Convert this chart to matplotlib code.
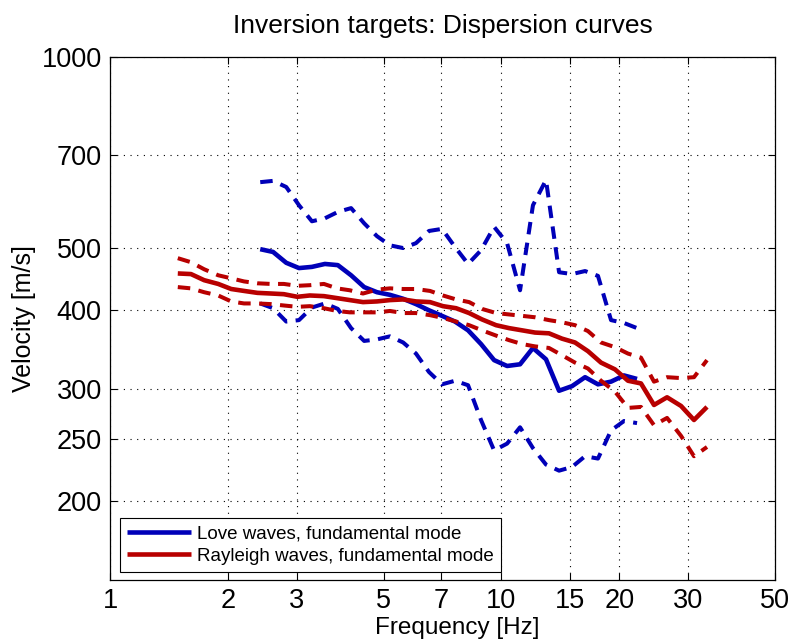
import matplotlib
matplotlib.use("Agg")
import matplotlib.pyplot as plt
from matplotlib.ticker import FixedLocator, NullLocator, FixedFormatter

plt.rcParams['font.family'] = ['Liberation Sans', 'DejaVu Sans']

# Rayleigh wave target: frequency [Hz] and phase velocity [m/s]
rayleigh_freq = [1.49, 1.61, 1.74, 1.89, 2.04, 2.20, 2.38, 2.58, 2.78, 3.01,
                 3.24, 3.52, 3.80, 4.10, 4.43, 4.81, 5.19, 5.61, 6.05, 6.57,
                 7.09, 7.66, 8.27, 8.92, 9.69, 10.46, 11.29, 12.19, 13.23, 14.28,
                 15.42, 16.64, 17.97, 19.51, 21.06, 22.73, 24.54, 26.50, 28.77, 31.05,
                 33.52]
rayleigh_mean = [456, 455, 445, 439, 431, 428, 425, 424, 423, 419,
                 421, 420, 417, 414, 411, 412, 414, 415, 412, 411,
                 405, 402, 395, 386, 378, 374, 371, 368, 367, 360,
                 355, 344, 330, 322, 309, 306, 283, 291, 282, 268,
                 281]
rayleigh_upper = [482, 475, 463, 453, 448, 443, 440, 439, 439, 436,
                  437, 439, 432, 429, 424, 430, 432, 431, 431, 428,
                  421, 415, 411, 401, 395, 393, 391, 389, 385, 382,
                  378, 370, 355, 349, 341, 336, 308, 313, 312, 313,
                  333]
rayleigh_lower = [434, 432, 426, 421, 412, 409, 409, 408, 406, 404,
                  405, 402, 398, 396, 396, 396, 398, 395, 395, 392,
                  388, 383, 378, 371, 364, 358, 353, 350, 348, 339,
                  330, 323, 309, 297, 280, 281, 263, 270, 253, 235,
                  243]

# Love wave target: frequency [Hz] and phase velocity [m/s]
love_freq = [2.42, 2.61, 2.82, 3.04, 3.28, 3.54, 3.82, 4.13, 4.46, 4.81,
             5.19, 5.61, 6.05, 6.53, 7.05, 7.61, 8.22, 8.87, 9.58, 10.34,
             11.16, 12.04, 13.00, 14.04, 15.15, 16.36, 17.65, 19.06, 20.57, 22.21]
love_mean = [498, 493, 474, 465, 467, 472, 470, 453, 434, 426,
             422, 416, 408, 399, 391, 383, 371, 353, 333, 326,
             328, 348, 334, 298, 303, 313, 305, 308, 315, 311]
love_upper = [635, 638, 624, 584, 551, 557, 570, 578, 547, 522,
              505, 500, 509, 532, 536, 502, 472, 496, 540, 509,
              429, 584, 640, 458, 455, 460, 452, 385, 381, 374]
love_lower = [409, 402, 383, 385, 403, 409, 401, 374, 357, 359,
              363, 355, 341, 319, 305, 309, 304, 268, 240, 246,
              261, 242, 228, 223, 226, 235, 233, 258, 267, 265]

x_ticks = [1, 2, 3, 5, 7, 10, 15, 20, 30, 50]
y_ticks = [200, 250, 300, 400, 500, 700, 1000]

blue = (0.0, 0.0, 0.72)
red = (0.72, 0.0, 0.0)
dash = (0, (3.1, 2.1))

fig = plt.figure(figsize=(7.92, 6.43), dpi=100)
ax = fig.add_axes([0.1389, 0.0980, 0.8396, 0.8134])

ax.plot(love_freq, love_mean, color=blue, lw=3.3, solid_capstyle='butt',
        label='Love waves, fundamental mode')
ax.plot(love_freq, love_upper, color=blue, lw=2.9, linestyle=dash, dash_capstyle='butt')
ax.plot(love_freq, love_lower, color=blue, lw=2.9, linestyle=dash, dash_capstyle='butt')

ax.plot(rayleigh_freq, rayleigh_mean, color=red, lw=3.3, solid_capstyle='butt',
        label='Rayleigh waves, fundamental mode')
ax.plot(rayleigh_freq, rayleigh_upper, color=red, lw=2.9, linestyle=dash, dash_capstyle='butt')
ax.plot(rayleigh_freq, rayleigh_lower, color=red, lw=2.9, linestyle=dash, dash_capstyle='butt')

ax.set_xscale('log')
ax.set_yscale('log')
ax.set_xlim(1, 50)
ax.set_ylim(150, 1000)

ax.xaxis.set_major_locator(FixedLocator(x_ticks))
ax.xaxis.set_major_formatter(FixedFormatter([str(t) for t in x_ticks]))
ax.xaxis.set_minor_locator(NullLocator())
ax.yaxis.set_major_locator(FixedLocator(y_ticks))
ax.yaxis.set_major_formatter(FixedFormatter([str(t) for t in y_ticks]))
ax.yaxis.set_minor_locator(NullLocator())

ax.tick_params(which='major', direction='in', length=5, width=0.8,
               top=True, right=True, labelsize=19.5, pad=6)
ax.grid(True, which='major', color='black', linestyle=(0, (1, 5)), linewidth=0.8)
for s in ax.spines.values():
    s.set_linewidth(0.9)

ax.set_title('Inversion targets: Dispersion curves', fontsize=19, pad=17)
ax.set_xlabel('Frequency [Hz]', fontsize=17.5)
ax.xaxis.set_label_coords(0.522, -0.071)
ax.set_ylabel('Velocity [m/s]', fontsize=18, labelpad=4)

leg = ax.legend(loc='lower left', bbox_to_anchor=(0.015, 0.015), borderaxespad=0,
                fontsize=13.5, frameon=True, fancybox=False, framealpha=1,
                edgecolor='black', handlelength=3.4, handletextpad=0.3,
                borderpad=0.4, labelspacing=0.25)
leg.get_frame().set_linewidth(0.8)

fig.savefig('out.png', dpi=100)
